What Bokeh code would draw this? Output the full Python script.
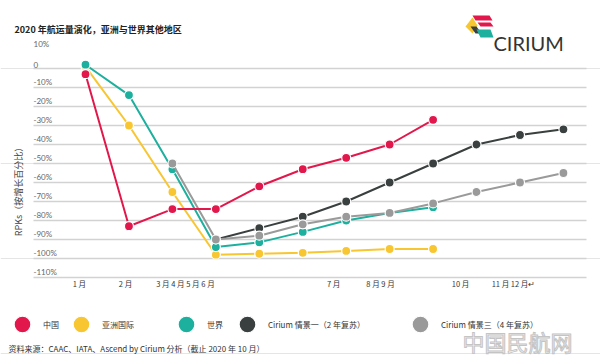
import math
from bokeh.plotting import figure
from bokeh.models import (FixedTicker, Label, Legend, LegendItem,
                          PolyAnnotation, Range1d)
from bokeh.core.properties import value
from bokeh.embed import file_html
from bokeh.resources import INLINE

nan = float("nan")

# ---------------- data ----------------
months = ["1月", "2月", "3月", "4月", "5月", "6月", "7月", "8月", "9月", "10月", "11月", "12月"]
month_idx = list(range(len(months)))

china = [-3, -83, -74, -74, -62, -53, -47, -40, -27, nan, nan, nan]
asia_intl = [1, -30, -65, -98, -97.5, -97, -96, -95, -95, nan, nan, nan]
world = [2, -14, -53, -94, -91.5, -86, -80, -76, -73, nan, nan, nan]
scenario_1 = [nan, nan, nan, -90, -84, -78, -70, -60, -50, -40, -35, -32]
scenario_3 = [nan, nan, -50, -90, -88, -82, -78, -76, -71, -65, -60, -55]

series_names = ["中国", "亚洲国际", "世界", "Cirium 情景一（2 年复苏）", "Cirium 情景三（4 年复苏）"]

y_tick_values = [10, 0, -10, -20, -30, -40, -50, -60, -70, -80, -90, -100, -110]
y_tick_labels = ["10%", "0", "-10%", "-20%", "-30%", "-40%", "-50%", "-60%",
                 "-70%", "-80%", "-90%", "-100%", "-110%"]
grid_values = [0, -10, -20, -30, -40, -50, -60, -70, -80, -90, -100, -110]

x_tick_positions = [-0.14, 0.92, 2.30, 5.71, 6.79, 8.63, 9.85]
x_tick_labels = ["1 月", "2 月", "3 月 4 月 5 月 6 月", "7 月", "8 月 9 月", "10 月", "11 月 12 月↵"]

title_text = "2020 年航运量演化，亚洲与世界其他地区"
y_title = "RPKs（按增长百分比）"
source_text = "资料来源：CAAC、IATA、Ascend by Cirium 分析（截止 2020 年 10 月）"

# ---------------- layout / styles ----------------
W, H = 600, 359
COLORS = ["#E2184C", "#F8C630", "#1DB09E", "#39403F", "#9A9A9A"]
CJK = "Noto Sans CJK SC"

# the plotting frame covers the whole canvas; ranges chosen so that
# month k sits at 85 + 43.45*k px and value v at 68 - 1.9*v px (from top)
X_PX0, X_STEP = 85.0, 43.45
Y_PX0, Y_STEP = 68.0, 1.9
x_range = Range1d((0 - X_PX0) / X_STEP, (W - X_PX0) / X_STEP)
y_range = Range1d(-(H - Y_PX0) / Y_STEP, Y_PX0 / Y_STEP)
GRID_X0 = (33 - X_PX0) / X_STEP
GRID_X1 = (586 - X_PX0) / X_STEP

p = figure(width=W, height=H, output_backend="svg", toolbar_location=None,
           x_range=x_range, y_range=y_range, y_axis_location=None,
           min_border=0, min_border_left=0, min_border_right=0,
           min_border_top=0, min_border_bottom=0)
p.title.visible = False
p.outline_line_color = None
p.background_fill_color = "white"
p.border_fill_color = "white"
p.xgrid.grid_line_color = None

# horizontal grid lines
p.segment(x0=[GRID_X0] * len(grid_values), x1=[GRID_X1] * len(grid_values),
          y0=grid_values, y1=grid_values, line_color="#d2d2d2", line_width=1.5)

# x axis sits on the -110% line
ax = p.xaxis[0]
ax.fixed_location = grid_values[-1]
ax.ticker = FixedTicker(ticks=x_tick_positions)
ax.major_label_overrides = dict(zip(x_tick_positions, x_tick_labels))
ax.axis_line_color = None
ax.major_tick_line_color = None
ax.minor_tick_line_color = None
ax.major_tick_out = 0
ax.major_label_standoff = 0
ax.major_label_text_font = CJK
ax.major_label_text_font_size = "7.5px"
ax.major_label_text_color = "#333333"

# y tick labels sitting above the grid lines
p.text(x=[GRID_X0] * len(y_tick_values), y=y_tick_values, text=y_tick_labels,
       text_font=value("Lato"), text_font_size="8px", text_color="#666666",
       text_align="left", text_baseline="bottom", y_offset=-1)

# series (draw order: yellow, teal, dark, gray, red)
all_series = [china, asia_intl, world, scenario_1, scenario_3]
order = [1, 2, 3, 4, 0]
scatter_r = {}
for i in order:
    vals = all_series[i]
    p.line(month_idx, vals, line_color=COLORS[i], line_width=2)
    scatter_r[i] = p.scatter(month_idx, vals, size=9, fill_color=COLORS[i],
                             line_color="white", line_width=1.2)

# watermark (drawn before the legends)
p.add_layout(Label(x=462, y=H - 340, x_units="screen", y_units="screen", text="中国民航网",
                   text_font=CJK, text_font_size="22px", text_color="#f4f4f4",
                   text_outline_color="#c4c4c4", text_baseline="middle"))

# legends (one per item so the uneven spacing can be matched)
legend_x = [1, 60, 165, 226, 399]
legend_standoff = [-6, -2, -7, -5, -6]
for i in range(5):
    lg = Legend(items=[LegendItem(label=series_names[i], renderers=[scatter_r[i]])],
                location=(legend_x[i], 14), orientation="horizontal",
                glyph_width=42, glyph_height=42, label_standoff=legend_standoff[i],
                padding=0, margin=0, spacing=0,
                border_line_alpha=0, background_fill_alpha=0,
                label_text_font=CJK, label_text_font_size="8px", label_text_color="#333333")
    p.add_layout(lg)

# texts (screen units: x from left, y from bottom of the canvas)
p.add_layout(Label(x=14, y=H - 29, x_units="screen", y_units="screen", text=title_text,
                   text_font=CJK, text_font_size="9px", text_font_style="bold",
                   text_color="#222222", text_baseline="middle"))
p.add_layout(Label(x=18, y=H - 189, x_units="screen", y_units="screen", text=y_title,
                   angle=math.pi / 2, text_align="center", text_baseline="middle",
                   text_font=CJK, text_font_size="9px", text_color="#444444"))
p.add_layout(Label(x=8, y=H - 348, x_units="screen", y_units="screen", text=source_text,
                   text_font=CJK, text_font_size="8px", text_color="#333333",
                   text_baseline="middle"))

# Cirium logo
p.add_layout(Label(x=493, y=H - 42, x_units="screen", y_units="screen", text="CIRIUM",
                   text_font="Lato", text_font_size="20px", text_color="#333333",
                   text_baseline="middle"))
logo_polys = [
    ("#E2184C", [(472, 15), (489, 15), (492, 20), (475, 20)]),
    ("#E2184C", [(477, 22), (490, 22), (493, 26), (480, 26)]),
    ("#F8C630", [(465, 26), (472, 17), (477, 25), (472, 33)]),
    ("#39403F", [(470, 26), (476, 26), (481, 33), (475, 33)]),
    ("#1DB09E", [(476, 29), (490, 29), (493, 37), (480, 37)]),
]
for col, pts in logo_polys:
    p.add_layout(PolyAnnotation(xs=[px for px, _ in pts], ys=[H - py for _, py in pts],
                                xs_units="screen", ys_units="screen",
                                fill_color=col, fill_alpha=1, line_color=None, level="overlay"))

open("out.html", "w").write(file_html(p, INLINE))
